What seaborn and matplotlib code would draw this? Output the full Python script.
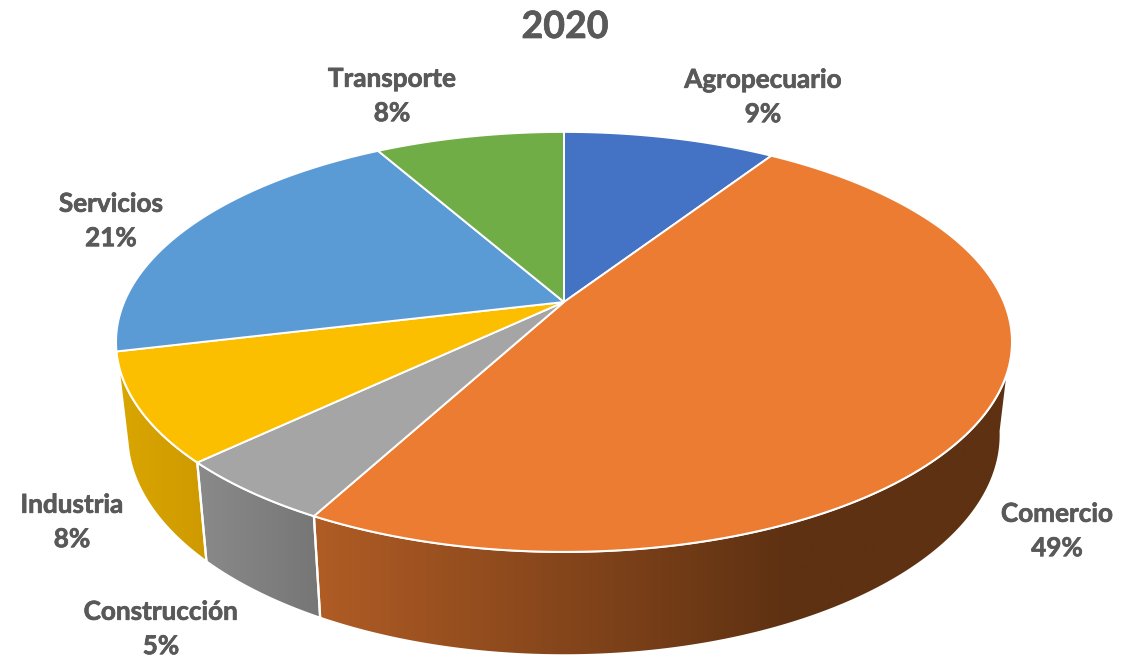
import numpy as np
import matplotlib
matplotlib.use('Agg')
import matplotlib.pyplot as plt
import matplotlib.patheffects as pe
import seaborn as sns
from matplotlib.patches import Polygon

categories = ['Agropecuario', 'Comercio', 'Construcción', 'Industria', 'Servicios', 'Transporte']
values = [9.2, 48.65, 5.05, 8.35, 20.55, 8.2]
title = '2020'

colors = ['#4472C4', '#EB7C31', '#A5A5A5', '#FBBF00', '#5B9BD5', '#70AD47']
# side wall gradients, left to right
side_colors = {1: ['#B05C25', '#5E3112'], 2: ['#8A8A8A', '#767676'], 3: ['#DAA600', '#CE9A00']}
label_x = [763, 1057, 161, 72, 111, 392]
label_y = [97, 531, 629, 522, 221, 96]

sns.set_theme(style='white')
plt.rcParams['font.family'] = ['Lato', 'DejaVu Sans']

# tilted disc, picture pixels
cx, cy = 564, 302
sx, sy, persp = 439.8, 202.4, 0.19
shrink, drop, stretch = 0.975, 91, 1.05
text_color = '#595959'


def top_rim(theta):
    # theta in degrees, clockwise from 12 o'clock
    t = np.radians(theta)
    w = 1 + persp * np.cos(t)
    return cx + sx * np.sin(t) / w, cy - sy * np.cos(t) / w


def bottom_rim(theta):
    x, y = top_rim(theta)
    return cx + (x - cx) * shrink, cy + drop + (y - cy) * stretch


edges = np.concatenate([[0], np.cumsum(values)]) / np.sum(values) * 360

fig = plt.figure(figsize=(11.34, 6.57), dpi=100)
ax = fig.add_axes([0, 0, 1, 1])

# side walls
for i, pair in side_colors.items():
    th = np.linspace(max(edges[i], 100), edges[i + 1], 200)
    xt, yt = top_rim(th)
    xb, yb = bottom_rim(th)
    pts = np.column_stack([np.r_[xt, xb[::-1]], np.r_[yt, yb[::-1]]])
    x0, x1 = pts[:, 0].min(), pts[:, 0].max()
    # the big wall is fully dark well before its right end
    dark_from = 790 if i == 1 else x1
    ramp = np.clip((np.linspace(x0, x1, 512) - x0) / (dark_from - x0), 0, 1).reshape(1, -1)
    img = ax.imshow(ramp, cmap=sns.blend_palette(pair, as_cmap=True), vmin=0, vmax=1,
                    aspect='auto', extent=[x0, x1, 657, 0], zorder=1)
    img.set_clip_path(Polygon(pts, closed=True, transform=ax.transData))
    ax.add_patch(Polygon(pts, closed=True, fill=False, edgecolor='white', linewidth=1.6, zorder=2))

# top face
for i, c in enumerate(colors):
    th = np.linspace(edges[i], edges[i + 1], 200)
    xt, yt = top_rim(th)
    pts = np.column_stack([np.r_[cx, xt], np.r_[cy, yt]])
    ax.add_patch(Polygon(pts, closed=True, facecolor=c, edgecolor='white', linewidth=1.4, zorder=3))

heavier = [pe.withStroke(linewidth=0.5, foreground=text_color)]
for name, v, x, y in zip(categories, values, label_x, label_y):
    ax.text(x, y, f'{name}\n{v:.0f}%', ha='center', va='center', fontsize=18.8,
            fontweight='bold', color=text_color, linespacing=1.52, path_effects=heavier)
ax.text(565, 27, title, ha='center', va='center', fontsize=27, fontweight='bold', color=text_color,
        path_effects=heavier)

ax.set_xlim(0, 1134)
ax.set_ylim(657, 0)
ax.axis('off')
fig.savefig('out.png', dpi=100)
